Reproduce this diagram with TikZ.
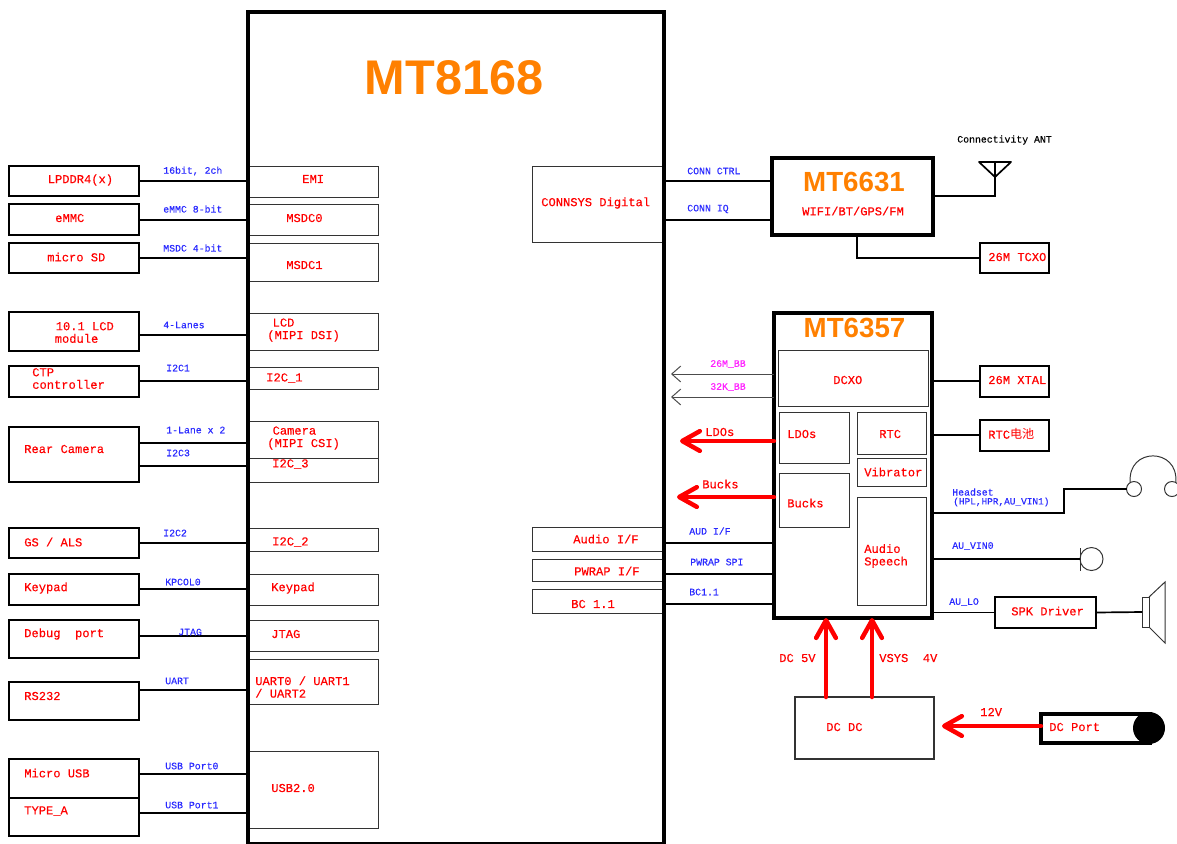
\documentclass[tikz,border=0pt]{standalone}
\usepackage{fontspec}
\setmainfont{Liberation Sans}
\setmonofont[FakeBold=0.35]{Liberation Mono}
\newfontfamily\cjkfont{Noto Sans CJK SC}
\usetikzlibrary{arrows.meta}
\definecolor{chiporange}{HTML}{FF8000}
\definecolor{netblue}{HTML}{2A2AFF}
\definecolor{clkpink}{HTML}{FF20FF}
\tikzset{
  hostbox/.style   = {draw, line width=1.2pt, outer sep=0pt, inner sep=0pt},
  portbox/.style   = {draw=black!80, line width=0.7pt, outer sep=0pt, inner sep=0pt},
  chipbox/.style   = {draw, line width=2.9pt, outer sep=0pt, inner sep=0pt},
  redtxt/.style    = {text=red, font=\ttfamily\fontsize{8.6}{8.9}\selectfont, anchor=west, inner sep=0pt, align=left},
  bluetxt/.style   = {text=netblue, font=\ttfamily\fontsize{7}{7.2}\selectfont, anchor=west, inner sep=0pt, align=left},
  pinktxt/.style   = {text=clkpink, font=\ttfamily\fontsize{7}{7.2}\selectfont, anchor=west, inner sep=0pt},
  chiptxt/.style   = {text=chiporange, font=\bfseries\fontsize{19.7}{20}\selectfont, inner sep=0pt},
  wire/.style      = {line width=1.2pt},
  thinarrow/.style = {-{Straight Barb[length=6.4pt, width=11.3pt]}, line width=0.7pt, draw=black!70},
  pwr/.style       = {-{Straight Barb[length=12.5pt, width=14pt, round]}, line width=3.2pt, draw=red, line cap=round}
}
\begin{document}
\begin{tikzpicture}[x=0.025cm, y=-0.025cm]

    \path[use as bounding box, clip] (0,0) rectangle (1177,843);

    % ── Left column: peripherals ───────────────────────────────────────
    \node[hostbox, minimum width=3.25cm, minimum height=0.75cm]  (lpddr)    at (74, 181)   {};
    \node[hostbox, minimum width=3.25cm, minimum height=0.775cm] (emmc)     at (74, 219.5) {};
    \node[hostbox, minimum width=3.25cm, minimum height=0.75cm]  (microsd)  at (74, 258)   {};
    \node[hostbox, minimum width=3.25cm, minimum height=0.975cm] (lcdmod)   at (74, 331.5) {};
    \node[hostbox, minimum width=3.25cm, minimum height=0.775cm] (ctp)      at (74, 381.5) {};
    \node[hostbox, minimum width=3.25cm, minimum height=1.375cm] (rearcam)  at (74, 454.5) {};
    \node[hostbox, minimum width=3.25cm, minimum height=0.75cm]  (gsals)    at (74, 543)   {};
    \node[hostbox, minimum width=3.25cm, minimum height=0.775cm] (keypad)   at (74, 589.5) {};
    \node[hostbox, minimum width=3.25cm, minimum height=0.95cm]  (debug)    at (74, 639)   {};
    \node[hostbox, minimum width=3.25cm, minimum height=0.95cm]  (rstwo)    at (74, 701)   {};
    \node[hostbox, minimum width=3.25cm, minimum height=0.975cm] (microusb) at (74, 778.5) {};
    \node[hostbox, minimum width=3.25cm, minimum height=0.95cm]  (typea)    at (74, 817)   {};

    \node[redtxt] (lpddrT)    at (47.5, 180) {LPDDR4(x)};
    \node[redtxt] (emmcT)     at (55, 218)   {eMMC};
    \node[redtxt] (microsdT)  at (47, 257)   {micro SD};
    \node[redtxt] (lcdmodT)   at (54.5, 332.5) {\hspace*{0.7pt}10.1 LCD\\module};
    \node[redtxt] (ctpT)      at (32, 378.5) {CTP\\controller};
    \node[redtxt] (rearcamT)  at (24, 449)   {Rear Camera};
    \node[redtxt] (gsalsT)    at (24, 542)   {GS / ALS};
    \node[redtxt] (keypadT)   at (24, 588)   {Keypad};
    \node[redtxt] (debugT)    at (24, 634)   {Debug\ \ port};
    \node[redtxt] (rstwoT)    at (24, 696)   {RS232};
    \node[redtxt] (microusbT) at (24, 773)   {Micro USB};
    \node[redtxt] (typeaT)    at (24, 811)   {TYPE\_A};

    % ── MT8168 ports, left side ────────────────────────────────────────
    \node[portbox, minimum width=3.25cm, minimum height=0.775cm] (emi)   at (313, 181.5) {};
    \node[portbox, minimum width=3.25cm, minimum height=0.775cm] (msdcz) at (313, 219.5) {};
    \node[portbox, minimum width=3.25cm, minimum height=0.95cm]  (msdco) at (313, 262)   {};
    \node[portbox, minimum width=3.25cm, minimum height=0.925cm] (lcdif) at (313, 331.5) {};
    \node[portbox, minimum width=3.25cm, minimum height=0.55cm]  (ictp)  at (313, 378)   {};
    \node[portbox, minimum width=3.25cm, minimum height=0.925cm] (camif) at (313, 439.5) {};
    \node[portbox, minimum width=3.25cm, minimum height=0.6cm]   (icam)  at (313, 470)   {};
    \node[portbox, minimum width=3.25cm, minimum height=0.575cm] (igs)   at (313, 539.5) {};
    \node[portbox, minimum width=3.25cm, minimum height=0.775cm] (keyif) at (313, 589.5) {};
    \node[portbox, minimum width=3.25cm, minimum height=0.775cm] (jtag)  at (313, 635.5) {};
    \node[portbox, minimum width=3.25cm, minimum height=1.125cm] (uart)  at (313, 681.5) {};
    \node[portbox, minimum width=3.25cm, minimum height=1.925cm] (usb)   at (313, 789.5) {};

    \node[redtxt] (emiT)   at (302, 179)   {EMI};
    \node[redtxt] (msdczT) at (286, 218)   {MSDC0};
    \node[redtxt] (msdcoT) at (286, 265)   {MSDC1};
    \node[redtxt] (lcdifT) at (267, 330)   {\hspace*{3.8pt}LCD\\(MIPI DSI)};
    \node[redtxt] (ictpT)  at (266, 378)   {I2C\_1};
    \node[redtxt] (camifT) at (267, 438)   {\hspace*{3.8pt}Camera\\(MIPI CSI)};
    \node[redtxt] (icamT)  at (272, 464)   {I2C\_3};
    \node[redtxt] (igsT)   at (272, 542)   {I2C\_2};
    \node[redtxt] (keyifT) at (271, 588)   {Keypad};
    \node[redtxt] (jtagT)  at (271, 634)   {JTAG};
    \node[redtxt] (uartT)  at (255, 687)   {UART0 / UART1\\/ UART2};
    \node[redtxt] (usbT)   at (271, 788)   {USB2.0};

    % ── MT8168 ports, right side ───────────────────────────────────────
    \node[portbox, minimum width=3.25cm, minimum height=1.9cm]  (connsys) at (598, 204) {};
    \node[portbox, minimum width=3.25cm, minimum height=0.6cm]  (audif)   at (598, 539) {};
    \node[portbox, minimum width=3.25cm, minimum height=0.55cm] (pwrap)   at (598, 570) {};
    \node[portbox, minimum width=3.25cm, minimum height=0.6cm]  (bcif)    at (598, 601) {};

    \node[redtxt] (connsysT) at (541, 203) {CONNSYS Digital};
    \node[redtxt] (audifT)   at (573, 539) {Audio I/F};
    \node[redtxt] (pwrapT)   at (574, 571) {PWRAP I/F};
    \node[redtxt] (bcifT)    at (571, 604) {BC 1.1};

    % Main chip outline goes over the port boxes
    \node[chipbox, minimum width=10.4cm, minimum height=20.8cm] (mtmain) at (456, 428) {};
    \node[chiptxt, font=\bfseries\fontsize{34.6}{35}\selectfont] (mtmainT) at (454, 78) {MT8168};

    % ── Left links ─────────────────────────────────────────────────────
    \draw[wire] (lpddr.east |- 0,181)    -- (mtmain.west |- 0,181);
    \draw[wire] (emmc.east |- 0,220)     -- (mtmain.west |- 0,220);
    \draw[wire] (microsd.east |- 0,258)  -- (mtmain.west |- 0,258);
    \draw[wire] (lcdmod.east |- 0,335)   -- (mtmain.west |- 0,335);
    \draw[wire] (ctp.east |- 0,381)      -- (mtmain.west |- 0,381);
    \draw[wire] (rearcam.east |- 0,443)  -- (mtmain.west |- 0,443);
    \draw[wire] (rearcam.east |- 0,466)  -- (mtmain.west |- 0,466);
    \draw[wire] (gsals.east |- 0,543)    -- (mtmain.west |- 0,543);
    \draw[wire] (keypad.east |- 0,589)   -- (mtmain.west |- 0,589);
    \draw[wire] (debug.east |- 0,636)    -- (mtmain.west |- 0,636);
    \draw[wire] (rstwo.east |- 0,690)    -- (mtmain.west |- 0,690);
    \draw[wire] (microusb.east |- 0,774) -- (mtmain.west |- 0,774);
    \draw[wire] (typea.east |- 0,813)    -- (mtmain.west |- 0,813);

    \node[bluetxt] (busA) at (163, 171) {16bit, 2ch};
    \node[bluetxt] (busB) at (163, 209) {eMMC 8-bit};
    \node[bluetxt] (busC) at (163, 248) {MSDC 4-bit};
    \node[bluetxt] (busD) at (163, 325) {4-Lanes};
    \node[bluetxt] (busE) at (166, 368) {I2C1};
    \node[bluetxt] (busF) at (166, 430) {1-Lane x 2};
    \node[bluetxt] (busG) at (166, 453) {I2C3};
    \node[bluetxt] (busH) at (163, 533) {I2C2};
    \node[bluetxt] (busI) at (165, 582) {KPCOL0};
    \node[bluetxt] (busJ) at (178, 632) {JTAG};
    \node[bluetxt] (busK) at (165, 681) {UART};
    \node[bluetxt] (busL) at (165, 766) {USB Port0};
    \node[bluetxt] (busM) at (165, 805) {USB Port1};

    % ── MT6631 ─────────────────────────────────────────────────────────
    \node[chipbox, minimum width=4.025cm, minimum height=1.925cm] (wifi) at (852.5, 196.5) {};
    \node[chiptxt] (wifiT)  at (854, 182) {MT6631};
    \node[redtxt, anchor=center] (wifiS) at (853, 211) {WIFI/BT/GPS/FM};
    \node[hostbox, minimum width=1.725cm, minimum height=0.75cm] (tcxo) at (1014.5, 258) {};
    \node[redtxt] (tcxoT) at (988, 257) {26M TCXO};

    \draw[wire] (mtmain.east |- 0,181) -- (wifi.west |- 0,181);
    \draw[wire] (mtmain.east |- 0,220) -- (wifi.west |- 0,220);
    \draw[wire] (wifi.south -| 857,0) |- (tcxo.west);
    \node[bluetxt] (connA) at (687, 171) {CONN CTRL};
    \node[bluetxt] (connB) at (687, 209) {CONN IQ};

    % Antenna
    \coordinate (ant) at (995, 162);
    \draw[wire, line join=round] (979, 162) -- (1011, 162) -- (995, 177) -- cycle;
    \draw[wire] (wifi.east |- 0,196) -| (ant);
    \node[bluetxt, text=black] (antT) at (957, 140) {Connectivity ANT};

    % ── MT6357 ─────────────────────────────────────────────────────────
    \node[portbox, minimum width=3.725cm, minimum height=1.4cm]   (dcxo)  at (853.5, 378) {};
    \node[portbox, minimum width=1.75cm,  minimum height=1.275cm] (ldos)  at (814, 437.5) {};
    \node[portbox, minimum width=1.725cm, minimum height=1.05cm]  (rtc)   at (891.5, 433) {};
    \node[portbox, minimum width=1.725cm, minimum height=0.7cm]   (vib)   at (891.5, 472) {};
    \node[portbox, minimum width=1.75cm,  minimum height=1.35cm]  (bucks) at (814, 500)   {};
    \node[portbox, minimum width=1.725cm, minimum height=2.7cm]   (audio) at (891.5, 551) {};
    \node[chipbox, minimum width=3.95cm,  minimum height=7.625cm] (pmic)  at (853, 465.5) {};
    \node[chiptxt] (pmicT) at (854.5, 328) {MT6357};

    \node[redtxt] (dcxoT)  at (833, 380) {DCXO};
    \node[redtxt] (ldosT)  at (787, 434) {LDOs};
    \node[redtxt] (rtcT)   at (879, 434) {RTC};
    \node[redtxt] (vibT)   at (864, 472) {Vibrator};
    \node[redtxt] (bucksT) at (787, 503) {Bucks};
    \node[redtxt] (audioT) at (864, 556) {Audio\\Speech};

    \draw[wire] (pmic.west |- 0,543) -- (mtmain.east |- 0,543);
    \draw[wire] (pmic.west |- 0,574) -- (mtmain.east |- 0,574);
    \draw[wire] (pmic.west |- 0,604) -- (mtmain.east |- 0,604);
    \node[bluetxt] (pmA) at (689, 531) {AUD I/F};
    \node[bluetxt] (pmB) at (690, 562) {PWRAP SPI};
    \node[bluetxt] (pmC) at (689, 592) {BC1.1};

    % Clock and supply arrows into MT8168
    \coordinate (bbA)  at (671, 374);
    \coordinate (bbB)  at (671, 397);
    \coordinate (ldoE) at (680, 441);
    \coordinate (bukE) at (677, 497);
    \draw[thinarrow] (pmic.west |- 0,374) -- (bbA);
    \draw[thinarrow] (pmic.west |- 0,397) -- (bbB);
    \draw[pwr] (pmic.west |- 0,441) -- (ldoE);
    \draw[pwr] (pmic.west |- 0,497) -- (bukE);
    \node[pinktxt] (bbAT) at (710, 364) {26M\_BB};
    \node[pinktxt] (bbBT) at (710, 387) {32K\_BB};
    \node[redtxt] (ldoL) at (705, 432) {LDOs};
    \node[redtxt] (bukL) at (702, 484) {Bucks};

    % ── Right of MT6357 ────────────────────────────────────────────────
    \node[hostbox, minimum width=1.725cm, minimum height=0.775cm] (xtal)   at (1014.5, 381.5) {};
    \node[hostbox, minimum width=1.725cm, minimum height=0.775cm] (rtcbat) at (1014.5, 435.5) {};
    \node[hostbox, minimum width=2.525cm, minimum height=0.775cm] (spkdrv) at (1045.5, 612.5) {};
    \node[redtxt] (xtalT)   at (988, 380)  {26M XTAL};
    \node[redtxt] (rtcbatT) at (988, 434)  {RTC{\cjkfont 电池}};
    \node[redtxt] (spkdrvT) at (1011, 611) {SPK Driver};

    \draw[wire] (pmic.east |- 0,381)   -- (xtal.west |- 0,381);
    \draw[wire] (pmic.east |- 0,435) -- (rtcbat.west |- 0,435);

    % Headset
    \node[portbox, circle, minimum size=0.375cm] (earL) at (1134, 489) {};
    \node[portbox, circle, minimum size=0.375cm] (earR) at (1172, 489) {};
    \draw[portbox] (earL.120) .. controls (1127, 447) and (1179, 447) .. (earR.60);
    \draw[wire] (pmic.east |- 0,513) -- (1064, 513) -- (1064, 489) -- (earL.west);
    \node[bluetxt] (hsT) at (952, 492) {Headset};
    \node[bluetxt, font=\ttfamily\fontsize{6.7}{7}\selectfont] (hsS) at (953, 502) {(HPL,HPR,AU\_VIN1)};

    % Microphone
    \node[portbox, circle, minimum size=0.575cm] (mic) at (1091.5, 559) {};
    \draw[portbox] (mic.west |- 0,548) -- (mic.west |- 0,571);
    \draw[wire] (pmic.east |- mic.west) -- (mic.west);
    \node[bluetxt] (micT) at (952, 546) {AU\_VIN0};

    % Speaker
    \node[portbox, minimum width=0.175cm, minimum height=0.75cm] (spk) at (1145.5, 612) {};
    \draw[portbox] (spk.north east) -- (1165, 582) -- (1165, 643) -- (spk.south east);
    \draw[wire] (pmic.east |- spkdrv.west) -- (spkdrv.west);
    \draw[wire] (spkdrv.east) -- (spk.west);
    \node[bluetxt] (spkT) at (949, 602) {AU\_LO};

    % ── Power input ────────────────────────────────────────────────────
    \node[portbox, line width=1.2pt, minimum width=3.475cm, minimum height=1.55cm] (dcdc) at (864.5, 728) {};
    \node[chipbox, minimum width=2.725cm, minimum height=0.725cm] (dcport) at (1095.5, 728.5) {};
    \node[circle, fill=black, minimum size=0.8cm, inner sep=0pt] (jack) at (1149, 728) {};
    \node[redtxt] (dcdcT)   at (826, 727)  {DC DC};
    \node[redtxt] (dcportT) at (1049, 727) {DC Port};
    \coordinate (dcTip) at (942, 726);

    \draw[pwr] (dcdc.north -| 826,0) -- (pmic.south -| 826,0);
    \draw[pwr] (dcdc.north -| 872,0) -- (pmic.south -| 872,0);
    \draw[pwr] (dcport.west |- 0,726) -- (dcTip);
    \node[redtxt] (fiveT) at (779, 658) {DC 5V};
    \node[redtxt] (vsysT) at (879, 658) {VSYS\ \ 4V};
    \node[redtxt] (twelveT) at (980, 712) {12V};

  \end{tikzpicture}
\end{document}
